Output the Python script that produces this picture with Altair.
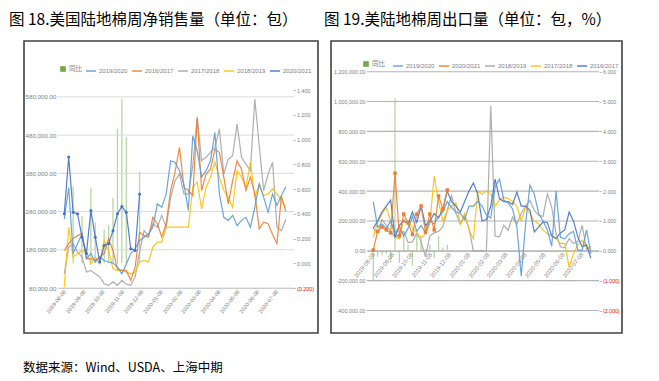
import altair as alt
import pandas as pd

# ---------------- data ----------------
week_dates = [d.strftime("%Y-%m-%d") for d in pd.date_range("2019-08-08", periods=51, freq="7D")]
tick_labels = ["2019-08-08", "2019-09-08", "2019-10-08", "2019-11-08", "2019-12-08", "2020-01-08",
               "2020-02-08", "2020-03-08", "2020-04-08", "2020-05-08", "2020-06-08", "2020-07-08"]

title_left = "图 18.美国陆地棉周净销售量（单位：包）"
title_right = "图 19.美陆地棉周出口量（单位：包，%）"
footer = "数据来源：Wind、USDA、上海中期"

# Fig 18: weekly net sales (thousand bales)
l_2019_2020 = [260, 343, 170, 196, 222, 157, 170, 148, 161, 152, 148, 145, 135, 117, 143, 170, 183, 204, 213, 222,
               239, 300, 291, 326, 413, 409, 387, 352, 283, 478, 439, 370, 387, 413, 487, 326, 265, 257, 270, 243,
               257, 265, 239, 291, 352, 317, 278, 326, 296, 322, 345]
l_2016_2017 = [178, 196, 209, 217, 222, 157, 157, 152, 161, 170, 209, 178, 130, 126, 126, 100, 135, 226, 217, 213,
               265, 248, 213, 248, 335, 383, 448, 343, 335, 322, 526, 335, 378, 391, 443, 435, 370, 300, 361, 413,
               391, 335, 370, 326, 235, 252, 248, 220, 196, 320, 280]
l_2017_2018 = [117, 187, 196, 174, 161, 122, 126, 117, 109, 91, 87, 96, 87, 100, 90, 87, 109, 174, 230, 217,
               248, 239, 270, 239, 317, 361, 378, 326, 326, 400, 526, 413, 422, 435, 448, 496, 378, 417, 426, 509,
               422, 404, 387, 574, 452, 335, 378, 409, 239, 230, 260]
l_2018_2019 = [83, 239, 161, 170, 178, 174, 143, 161, 143, 204, 178, 130, 126, 126, 122, 117, 122, 148, 152, 148,
               187, 200, 200, 239, 239, 239, 239, 239, 239, 343, 357, 287, 343, 370, 409, 370, 335, 317, 291, 387,
               370, 343, 409, 317, 352, 322, 326, 339, 326, 309, 290]
l_2020_2021 = [274, 423, 278, 274, 213, 170, 283, 213, 148, 191, 196, 230, 274, 293, 278, 183, 178, 326]
l_yoy_weeks = [2, 4, 6, 7, 9, 10, 11, 12, 13, 14, 17]
l_yoy = [0.62, 0.38, 0.61, 0.33, 0.27, 0.31, 0.53, 1.09, 1.33, 1.02, 0.74]

# Fig 19: weekly exports (thousand bales)
r_2019_2020 = [330, 160, 180, 150, 200, 120, 160, 100, 150, 230, 130, 170, 120, 200, 180, 230, 260, 330, 290, 260,
               250, 210, 300, 300, 330, 300, 240, 220, 430, 480, 340, 320, 280, 160, -170, 180, 440, 380, 250, 200,
               140, 30, 400, 90, 80, 115, 130, 5, 5, 140, -20]
r_2020_2021 = [5, 130, 160, 140, 120, 520, 100, 246, 186, 110, 246, 300, 125, 246, 140, 367, 280, 407]
r_2018_2019 = [150, 120, 210, 170, 130, 90, 110, 130, 55, 60, 120, 60, -40, 100, 120, 130, 160, 270, 370, 250,
               180, 230, 150, 0, 0, 0, 0, 970, 98, 93, 171, 138, 227, 180, 250, 300, 338, 271, 238, 230,
               382, 293, 116, 27, 20, 82, 50, 60, 171, 10, 30]
r_2017_2018 = [90, 190, 245, 290, 200, 90, 80, 210, 200, 155, 120, 90, 110, 180, 500, 330, 200, 270, 300, 320,
               180, 250, 140, 80, 400, 380, 400, 380, 300, 340, 360, 350, 330, 300, 200, 290, 250, 200, 180, 138,
               115, 100, 82, 50, 50, -110, -20, 40, 70, 25, 10]
r_2016_2017 = [150, 200, 260, 300, 340, 90, 170, 200, 180, 260, 190, 300, 170, 200, 250, 220, 280, 400, 330, 300,
               260, 330, 400, 455, 380, 200, 210, 300, 480, 350, 330, 330, 310, 393, 300, 300, 271, 127, 160, 193,
               190, 100, 82, 120, 140, 260, 200, 93, 27, 40, -50]
r_yoy_weeks = list(range(18))
r_yoy = [-1.0, -0.2, -0.15, -0.1, -0.4, 5.1, -0.4, 0.5, 0.2, -0.5, 0.6, 0.5, 0.05, 0.2, -0.25, 0.5, 0.1, 0.2]

left_ticks = [80000, 180000, 280000, 380000, 480000, 580000]
left_rticks = [-0.2, 0, 0.2, 0.4, 0.6, 0.8, 1.0, 1.2, 1.4]
right_ticks = [-400000, -200000, 0, 200000, 400000, 600000, 800000, 1000000, 1200000]
right_rticks = [-2, -1, 0, 1, 2, 3, 4, 5, 6]

BLUE, ORANGE, GRAY, GOLD, DBLUE, GREEN = "#5B9BD5", "#ED7D31", "#A5A5A5", "#FFC000", "#4472C4", "#70AD47"


def to_long(names, arrays):
    rows = []
    for n, arr in zip(names, arrays):
        for d, v in zip(week_dates, arr):
            rows.append({"date": d, "series": n, "value": v * 1000})
    return pd.DataFrame(rows)


def to_bars(weeks, vals):
    return pd.DataFrame({"date": [week_dates[i] for i in weeks], "value": vals, "s": ["同比"] * len(vals)})


tick_dt = [alt.DateTime(year=int(s[:4]), month=int(s[5:7]), date=8, utc=True) for s in tick_labels]
xdom = [alt.DateTime(year=2019, month=8, date=6, utc=True), alt.DateTime(year=2020, month=7, date=28, utc=True)]

neg_expr = "datum.value < 0 ? '(' + format(-datum.value, '.3f') + ')' : format(datum.value, '.3f')"
neg_color = {"condition": {"test": "datum.value < 0", "value": "#FF0000"}, "value": "#7F7F7F"}


def panel(c):
    xscale = alt.Scale(type="utc", domain=xdom, range=c["xr"])
    xaxis = alt.Axis(values=tick_dt, format="%Y-%m-%d", labelAngle=-52, labelFontSize=c["xfs"],
                     labelColor="#7F7F7F", labelFont="Liberation Sans", offset=c["xoff"], domain=True,
                     domainColor="#BFBFBF", ticks=False, grid=False, labelPadding=2, labelOverlap=False,
                     labelBound=False, labelFlush=False, title=None)
    yscale = alt.Scale(domain=c["ydom"], range=c["yr"], nice=False, zero=False)
    yaxis = alt.Axis(values=c["yticks"], orient="left", offset=c["loff"], grid=False,
                     domain=False, ticks=False, labelFontSize=c["yfs"], labelColor="#7F7F7F",
                     labelFont="Liberation Sans", labelPadding=2, title=None,
                     labelExpr="replace(format(datum.value, ',.2f'), '\u2212', '-')")
    rscale = alt.Scale(domain=c["rdom"], range=c["yr"], nice=False, zero=False)
    raxis = alt.Axis(values=c["rticks"], orient="right", offset=c["roff"], grid=False, domain=False,
                     ticks=True, tickSize=2.5, tickColor="#BFBFBF", labelExpr=neg_expr, labelColor=neg_color,
                     labelFontSize=c["rfs"], labelFont="Liberation Sans", labelPadding=1, title=None)

    bars = alt.Chart(c["bars"]).mark_bar(size=1.3, opacity=0.5).encode(
        x=alt.X("date:T", scale=xscale, axis=xaxis),
        y=alt.Y("value:Q", scale=rscale, axis=raxis),
        fill=alt.Fill("s:N", scale=alt.Scale(domain=["同比"], range=[GREEN]),
                      legend=alt.Legend(orient="none", legendX=c["flx"], legendY=c["ly"], title=None,
                                        symbolType="square", symbolSize=32, symbolOpacity=1,
                                        labelFontSize=6.5, labelFont="Noto Sans CJK SC",
                                        labelColor="#7F7F7F", padding=0, labelOffset=2)),
    )

    grid = alt.Chart(pd.DataFrame({"value": c["yticks"]})).mark_rule(
        color=c["gridc"], strokeWidth=c["gridw"]).encode(
        y=alt.Y("value:Q", scale=yscale, axis=yaxis),
        x=alt.value(c["xr"][0]), x2=alt.value(c["xr"][1]),
    )

    lines = alt.Chart(c["lines"]).mark_line(strokeWidth=1.2, opacity=0.9).encode(
        x=alt.X("date:T", scale=xscale, axis=xaxis),
        y=alt.Y("value:Q", scale=yscale, axis=yaxis),
        stroke=alt.Stroke("series:N", scale=alt.Scale(domain=c["order"], range=c["colors"]),
                          legend=alt.Legend(orient="none", legendX=c["slx"], legendY=c["ly"], title=None,
                                            direction="horizontal", columns=5, symbolType="stroke",
                                            symbolSize=100, symbolStrokeWidth=1.5, labelFontSize=6,
                                            labelFont="Liberation Sans", labelColor="#7F7F7F",
                                            columnPadding=1, labelOffset=2, padding=0, rowPadding=0)),
        detail="series:N",
    )

    pts = alt.Chart(c["lines"]).transform_filter(
        alt.datum.series == "2020/2021").mark_point(
        filled=True, size=c["msize"], shape=c["mshape"], color=c["mcolor"], opacity=1).encode(
        x=alt.X("date:T", scale=xscale, axis=xaxis),
        y=alt.Y("value:Q", scale=yscale, axis=yaxis),
    )

    layers = [bars, alt.layer(grid, lines, pts)]
    if c.get("footer"):
        foot = alt.Chart(pd.DataFrame({"t": [footer]})).mark_text(
            align="left", baseline="middle", fontSize=12.5, font="Noto Sans CJK SC", color="#000000").encode(
            text="t:N", x=alt.value(-1), y=alt.value(327))
        layers.append(foot)

    return alt.layer(*layers).resolve_scale(y="independent").properties(
        width=c["W"], height=c["H"],
        title=alt.TitleParams(c["title"], anchor="start", frame="group", dx=c["tdx"], offset=13,
                              fontSize=15.5, fontWeight="normal", font="Noto Sans CJK SC", color="#000000"),
    )


left_order = ["2019/2020", "2016/2017", "2017/2018", "2018/2019", "2020/2021"]
left_colors = [BLUE, ORANGE, GRAY, GOLD, DBLUE]
left_lines = to_long(["2017/2018", "2018/2019", "2016/2017", "2019/2020", "2020/2021"],
                     [l_2017_2018, l_2018_2019, l_2016_2017, l_2019_2020, l_2020_2021])

right_order = ["2019/2020", "2020/2021", "2018/2019", "2017/2018", "2016/2017"]
right_colors = [BLUE, ORANGE, GRAY, GOLD, DBLUE]
right_lines = to_long(["2018/2019", "2017/2018", "2016/2017", "2019/2020", "2020/2021"],
                      [r_2018_2019, r_2017_2018, r_2016_2017, r_2019_2020, r_2020_2021])

left = panel(dict(
    W=294, H=292, xr=[34, 270], yr=[247, 49], ydom=[80000, 598000], yticks=left_ticks,
    rdom=[-0.2, 1.4], rticks=left_rticks, xoff=-45, loff=-34, roff=-25, xfs=5.5, yfs=6.2, rfs=5.4,
    lines=left_lines, order=left_order, colors=left_colors, bars=to_bars(l_yoy_weeks, l_yoy),
    mcolor=DBLUE, mshape="circle", msize=9, gridc="#D9D9D9", gridw=1,
    flx=35, slx=61, ly=24, title=title_left, tdx=-15, footer=True,
))

right = panel(dict(
    W=291, H=292, xr=[36, 268], yr=[269.5, 30.7], ydom=[-400000, 1200000], yticks=right_ticks,
    rdom=[-2, 6], rticks=right_rticks, xoff=-82, loff=-36, roff=-23, xfs=5.8, yfs=5.4, rfs=5.3,
    lines=right_lines, order=right_order, colors=right_colors, bars=to_bars(r_yoy_weeks, r_yoy),
    mcolor=ORANGE, mshape="square", msize=12, gridc="#B4B4B4", gridw=1.1,
    flx=31, slx=61, ly=19, title=title_right, tdx=-7,
))

chart = alt.hconcat(left, right, spacing=4).resolve_scale(
    x="independent", y="independent", fill="independent", stroke="independent"
).resolve_legend(fill="independent", stroke="independent").properties(
    padding={"left": 0, "top": 3, "right": 0, "bottom": 0}, background="#FFFFFF"
).configure_view(stroke="#404040", strokeWidth=1.6)

chart.save("out.html", embed_options={"renderer": "svg", "actions": False})
